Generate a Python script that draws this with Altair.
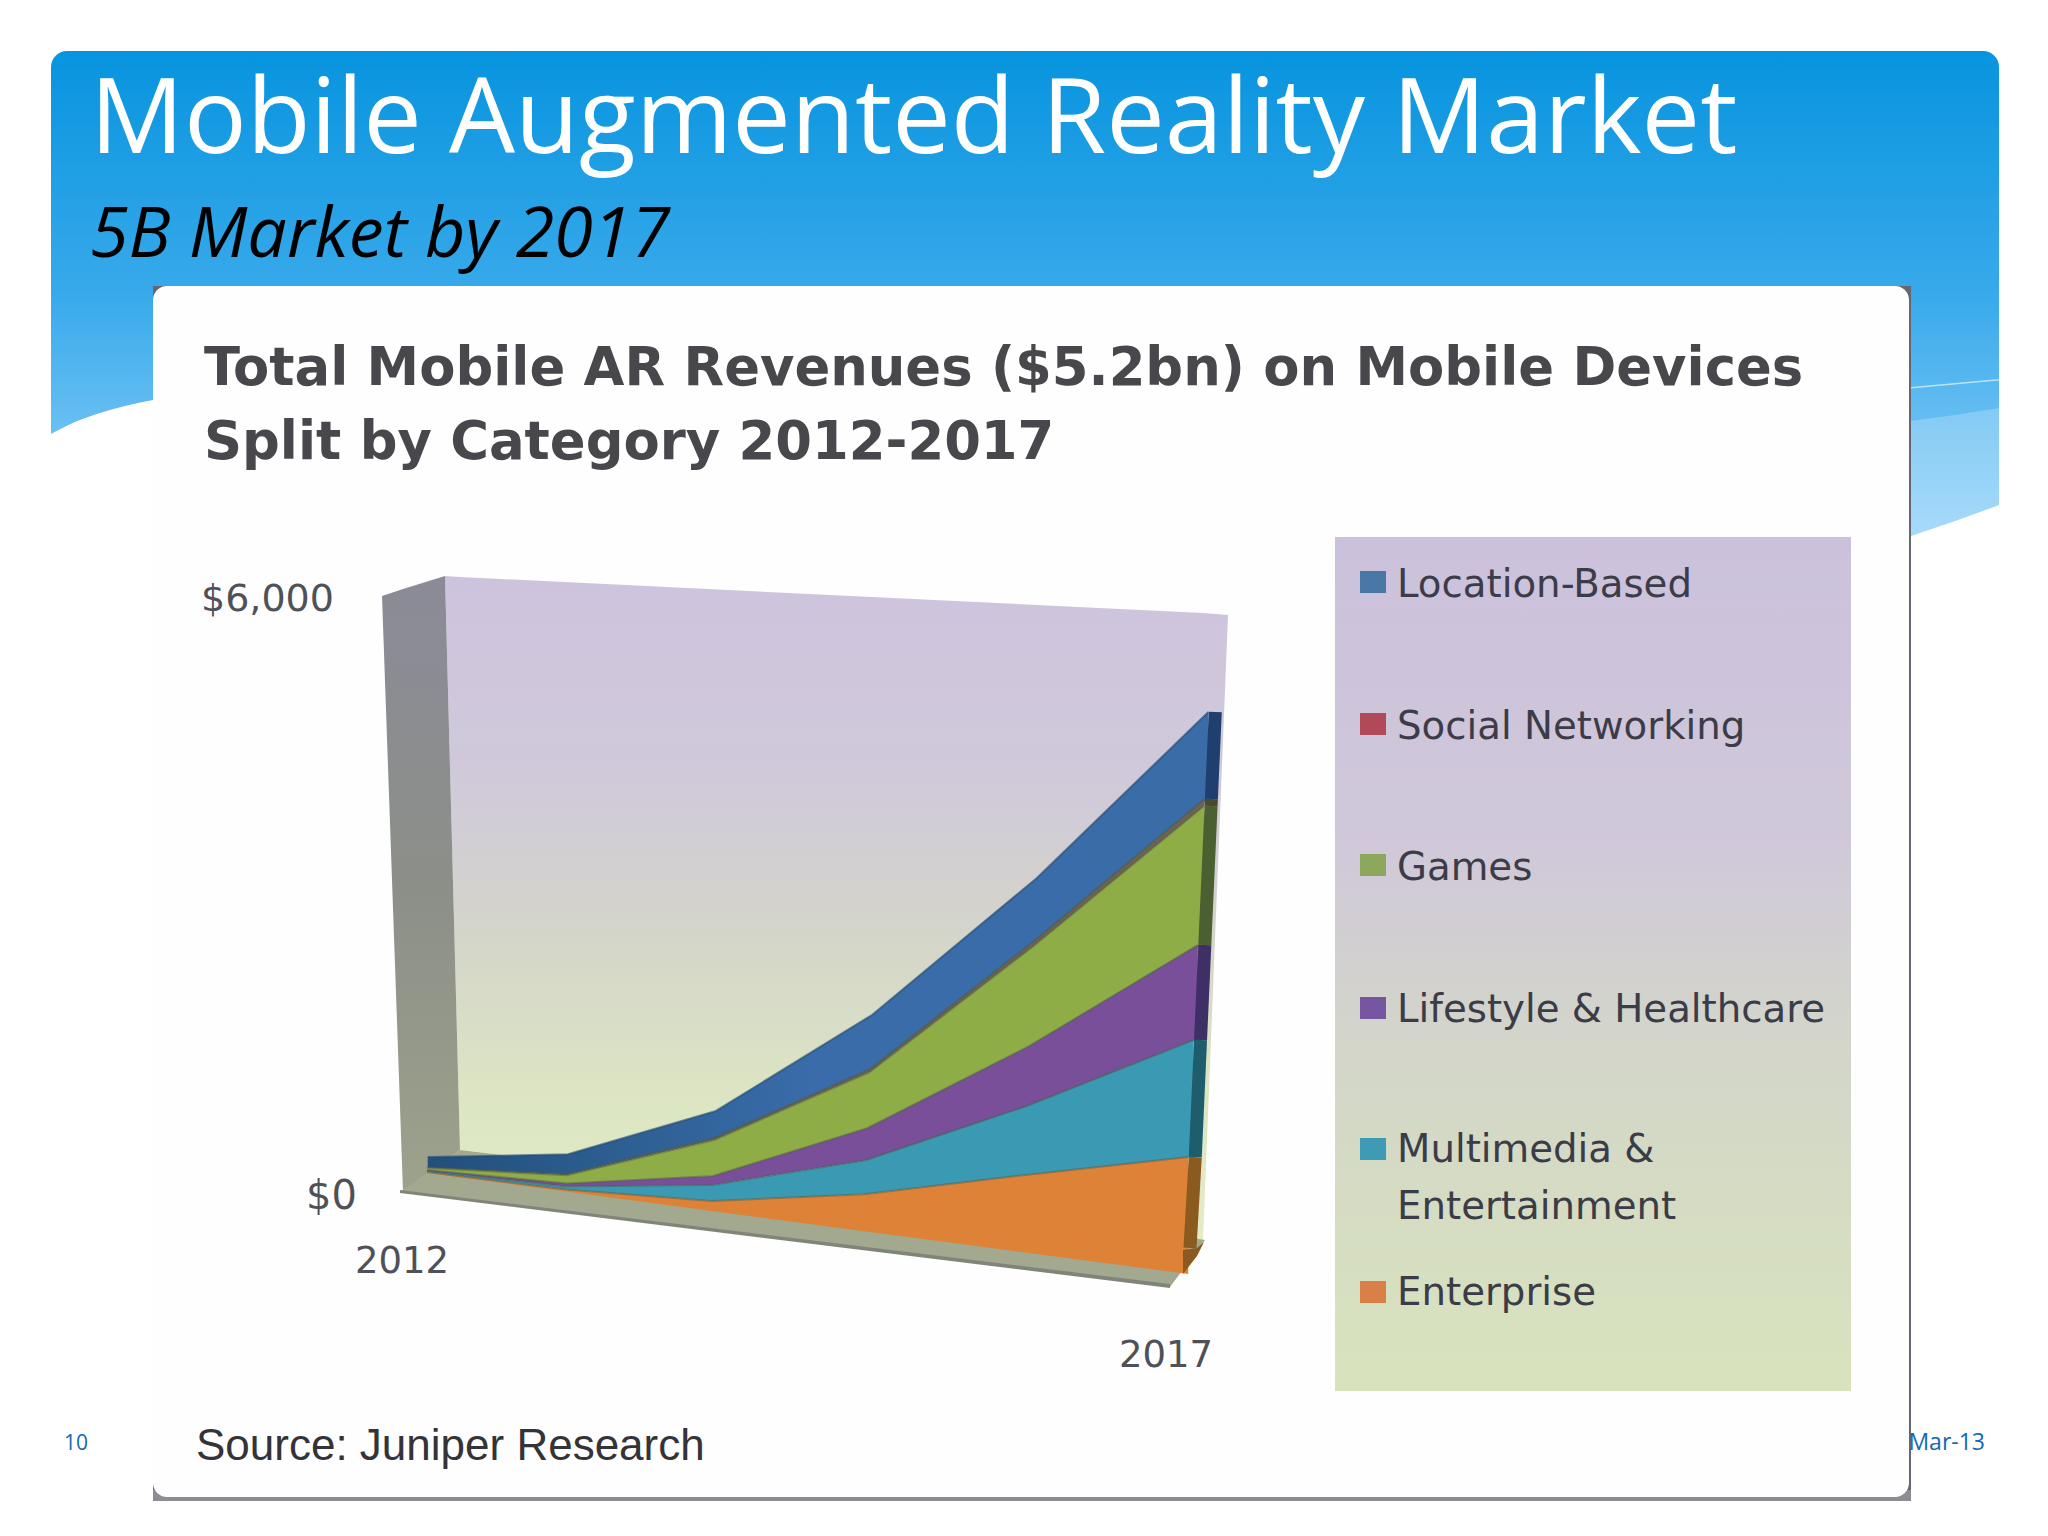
import altair as alt
import pandas as pd

# ---------- chart values ($m) ----------
years = [2012, 2013, 2014, 2015, 2016, 2017]
series_bottom_up = ["Enterprise", "Multimedia & Entertainment", "Lifestyle & Healthcare",
                    "Games", "Social Networking", "Location-Based"]
enterprise = [10, 20, 97, 353, 724, 1083]
multimedia = [10, 30, 155, 324, 648, 1083]
lifestyle = [10, 30, 87, 305, 564, 880]
games = [20, 80, 349, 534, 940, 1287]
social = [5, 10, 19, 29, 47, 65]
location = [105, 197, 262, 520, 592, 805]
series_values = [enterprise, multimedia, lifestyle, games, social, location]
band_colors = ["#dd8236", "#3a9ab3", "#7a4f9a", "#8fad46", "#6d6350", "#3a6cab"]
side_colors = ["#8a5a1e", "#1e5d6c", "#3e2f66", "#4a6030", "#4a4a30", "#1f3f6e"]

legend_names = ["Location-Based", "Social Networking", "Games", "Lifestyle & Healthcare",
                "Multimedia &", "Enterprise"]
legend_colors = ["#4a78a6", "#b04a58", "#8da85c", "#7656a0", "#3f9bb4", "#d98048"]
legend_centres = [582, 724, 865, 1008, 1149, 1292]
legend_baselines = [597, 739, 880, 1022, 1162, 1305]

# ---------- page furniture, in page pixels ----------
PAGE_X = alt.Scale(domain=[8, 2040], range=[0, 2032], nice=False, zero=False)
PAGE_Y = alt.Scale(domain=[8, 1528], range=[0, 1520], nice=False, zero=False)


def X(f="x"):
    return alt.X(f"{f}:Q", scale=PAGE_X, axis=None)


def Y(f="y"):
    return alt.Y(f"{f}:Q", scale=PAGE_Y, axis=None)


def box(x, x2, y, y2, color, **kw):
    return alt.Chart(pd.DataFrame({"x": [x], "x2": [x2], "y": [y], "y2": [y2]})).mark_rect(
        color=color, **kw
    ).encode(x=X(), x2="x2:Q", y=Y(), y2="y2:Q")


def poly(xs, tops, bottoms, color, interpolate="linear", **kw):
    return alt.Chart(pd.DataFrame({"x": xs, "y": tops, "y2": bottoms})).mark_area(
        color=color, interpolate=interpolate, **kw
    ).encode(x=X(), y=Y(), y2="y2:Q")


def vgrad(stops):
    return alt.Gradient(gradient="linear", x1=0, y1=0, x2=0, y2=1,
                        stops=[alt.GradientStop(offset=o, color=c) for o, c in stops])


def label(text, x, y, size, color, font="DejaVu Sans", align="left", **kw):
    return alt.Chart(pd.DataFrame({"x": [x], "y": [y], "t": [text]})).mark_text(
        font=font, fontSize=size, color=color, align=align, baseline="alphabetic", **kw
    ).encode(x=X(), y=Y(), text="t:N")


layers = []
# header
layers.append(box(51, 1999, 51, 545, vgrad([(0, "#0794de"), (0.5, "#39aaeb"), (1, "#92d2fa")]),
                  cornerRadiusTopLeft=16, cornerRadiusTopRight=16))
layers.append(poly([1911, 1955, 1999], [421, 415, 408], [536, 521, 505], "#ffffff", opacity=0.22))
layers.append(poly([1911, 1999], [387, 379], [388.5, 380.5], "#ffffff", opacity=0.6))
layers.append(poly([51, 75, 100, 125, 153], [434, 422, 413, 406, 400], [545] * 5, "#ffffff", interpolate="monotone"))
layers.append(poly([1911, 1955, 1999], [536, 521, 505], [548, 548, 548], "#ffffff", interpolate="monotone"))
# footer texts, partly covered by the panel
layers.append(label("10", 64, 1450, 21, "#1468b4", font="Open Sans"))
layers.append(label("Mar-13", 1985, 1450, 23, "#1468b4", font="Open Sans", align="right"))
# panel
layers.append(box(153, 1911, 286, 1501, "#666670"))
layers.append(box(153, 1911, 1490, 1501, "#8c8c92"))
layers.append(box(153, 1909, 286, 1497, "#fefefe", cornerRadius=14))

# 3D plot walls
layers.append(poly([445, 460, 1203, 1228], [576, 577, 613, 615], [576, 1150, 1240, 615],
                   vgrad([(0, "#cec3dd"), (0.3, "#d0c9da"), (0.55, "#d4d6c9"), (0.8, "#dde6c3"), (1, "#e3ebc8")])))
layers.append(poly([382, 403, 445, 460], [596, 589, 576, 1150], [596, 1192, 1161, 1150],
                   vgrad([(0, "#8b8b98"), (0.5, "#8c8f88"), (1, "#9da28c")])))
layers.append(poly([400, 460, 1170, 1205], [1192, 1150, 1234, 1240], [1192, 1199, 1287, 1240], "#a3a98f"))
layers.append(poly([400, 1170], [1190, 1284], [1193, 1288], "#80857a"))

# series
rows = []
for name, vals in zip(series_bottom_up, series_values):
    for i, v in enumerate(vals):
        rows.append({"series": name, "year": years[i], "value": v})

df = pd.DataFrame(rows)
df["lower"] = 0
df["upper"] = 0
for y in years:
    mask = df["year"] == y
    cum = df.loc[mask, "value"].cumsum()
    df.loc[mask, "upper"] = cum
    df.loc[mask, "lower"] = cum - df.loc[mask, "value"]


def project(chart):
    return chart.transform_calculate(
        t="(datum.year-2012)/5",
    ).transform_calculate(
        u="datum.t-0.1*datum.t*(1-datum.t)",
        k="0.100+0.008*datum.t",
    ).transform_calculate(
        bx="427+756*datum.u",
        by="1173+101*datum.u",
    ).transform_calculate(
        px="datum.bx+0.045*datum.upper*datum.k",
        py="datum.by-datum.upper*datum.k",
        py2="datum.by-datum.lower*datum.k",
        sx="datum.bx+0.045*datum.upper*datum.k+7",
        sx2="datum.bx+0.045*datum.lower*datum.k+7",
    ).transform_calculate(
        py3="datum.py2-(datum.lower==0?26:0)",
    )


# top band first, so lower ones paint over its lower edge
for idx in range(5, -1, -1):
    name = series_bottom_up[idx]
    sub = df[df["series"] == name]
    fill = band_colors[idx]
    if name == "Location-Based":
        fill = alt.Gradient(gradient="linear", x1=0, y1=0, x2=1, y2=0,
                            stops=[alt.GradientStop(offset=0, color="#224f7c"),
                                   alt.GradientStop(offset=0.25, color="#2d5f92"),
                                   alt.GradientStop(offset=0.5, color="#3a6cab"),
                                   alt.GradientStop(offset=1, color="#3a6ca8")])
    layers.append(project(alt.Chart(sub)).mark_area(color=fill, interpolate="linear").encode(
        x=X("px"), y=Y("py"), y2="py2:Q"))
    line_color = "#204a70" if idx == 5 else "#4c5a48"
    line_op = 0.6 if idx == 5 else 0.45
    layers.append(project(alt.Chart(sub)).mark_line(color=line_color, strokeWidth=2, opacity=line_op,
                                                    interpolate="linear", strokeJoin="round").encode(
        x=X("px"), y=Y("py")))

# right-hand side face of each band at 2017
for idx in range(6):
    sub = df[(df["series"] == series_bottom_up[idx]) & (df["year"] == 2017)]
    layers.append(project(alt.Chart(sub)).mark_rule(color=side_colors[idx], strokeWidth=13).encode(
        x=X("sx"), x2="sx2:Q", y=Y("py"), y2="py3:Q"))
layers.append(poly([1183, 1197, 1204], [1250, 1248, 1242], [1274, 1256, 1242], side_colors[0]))

# legend panel
layers.append(box(1335, 1851, 537, 1391, vgrad([(0, "#cbc1dc"), (0.35, "#d0c8da"), (0.6, "#d3d6c9"), (1, "#d8e3bc")])))
for n, col, c, b in zip(legend_names, legend_colors, legend_centres, legend_baselines):
    layers.append(box(1360, 1386, c - 11, c + 11, col))
    layers.append(label(n, 1397, b, 38.7, "#3c3c48"))
layers.append(label("Entertainment", 1397, 1219, 38.7, "#3c3c48"))

# texts
layers.append(label("Mobile Augmented Reality Market", 90, 153, 104.4, "#ffffff", font="Open Sans"))
layers.append(label("5B Market by 2017", 90, 257, 70, "#000000", font="Open Sans", fontStyle="italic"))
layers.append(label("Total Mobile AR Revenues ($5.2bn) on Mobile Devices", 204, 385, 52.8, "#48484c", fontWeight="bold"))
layers.append(label("Split by Category 2012-2017", 204, 459, 52.8, "#48484c", fontWeight="bold"))
layers.append(label("$6,000", 201, 611, 38, "#505058"))
layers.append(label("$0", 306, 1209, 40, "#505058"))
layers.append(label("2012", 355, 1273, 37, "#505058"))
layers.append(label("2017", 1119, 1367, 37, "#505058"))
layers.append(label("Source: Juniper Research", 196, 1460, 44, "#333338", font="Liberation Sans"))

chart = alt.layer(*layers).properties(
    width=2032, height=1520, padding=0, background="#ffffff",
    autosize=alt.AutoSizeParams(type="none"),
).configure_view(stroke=None)

chart.save("out.html", embed_options={"renderer": "svg", "actions": False})
